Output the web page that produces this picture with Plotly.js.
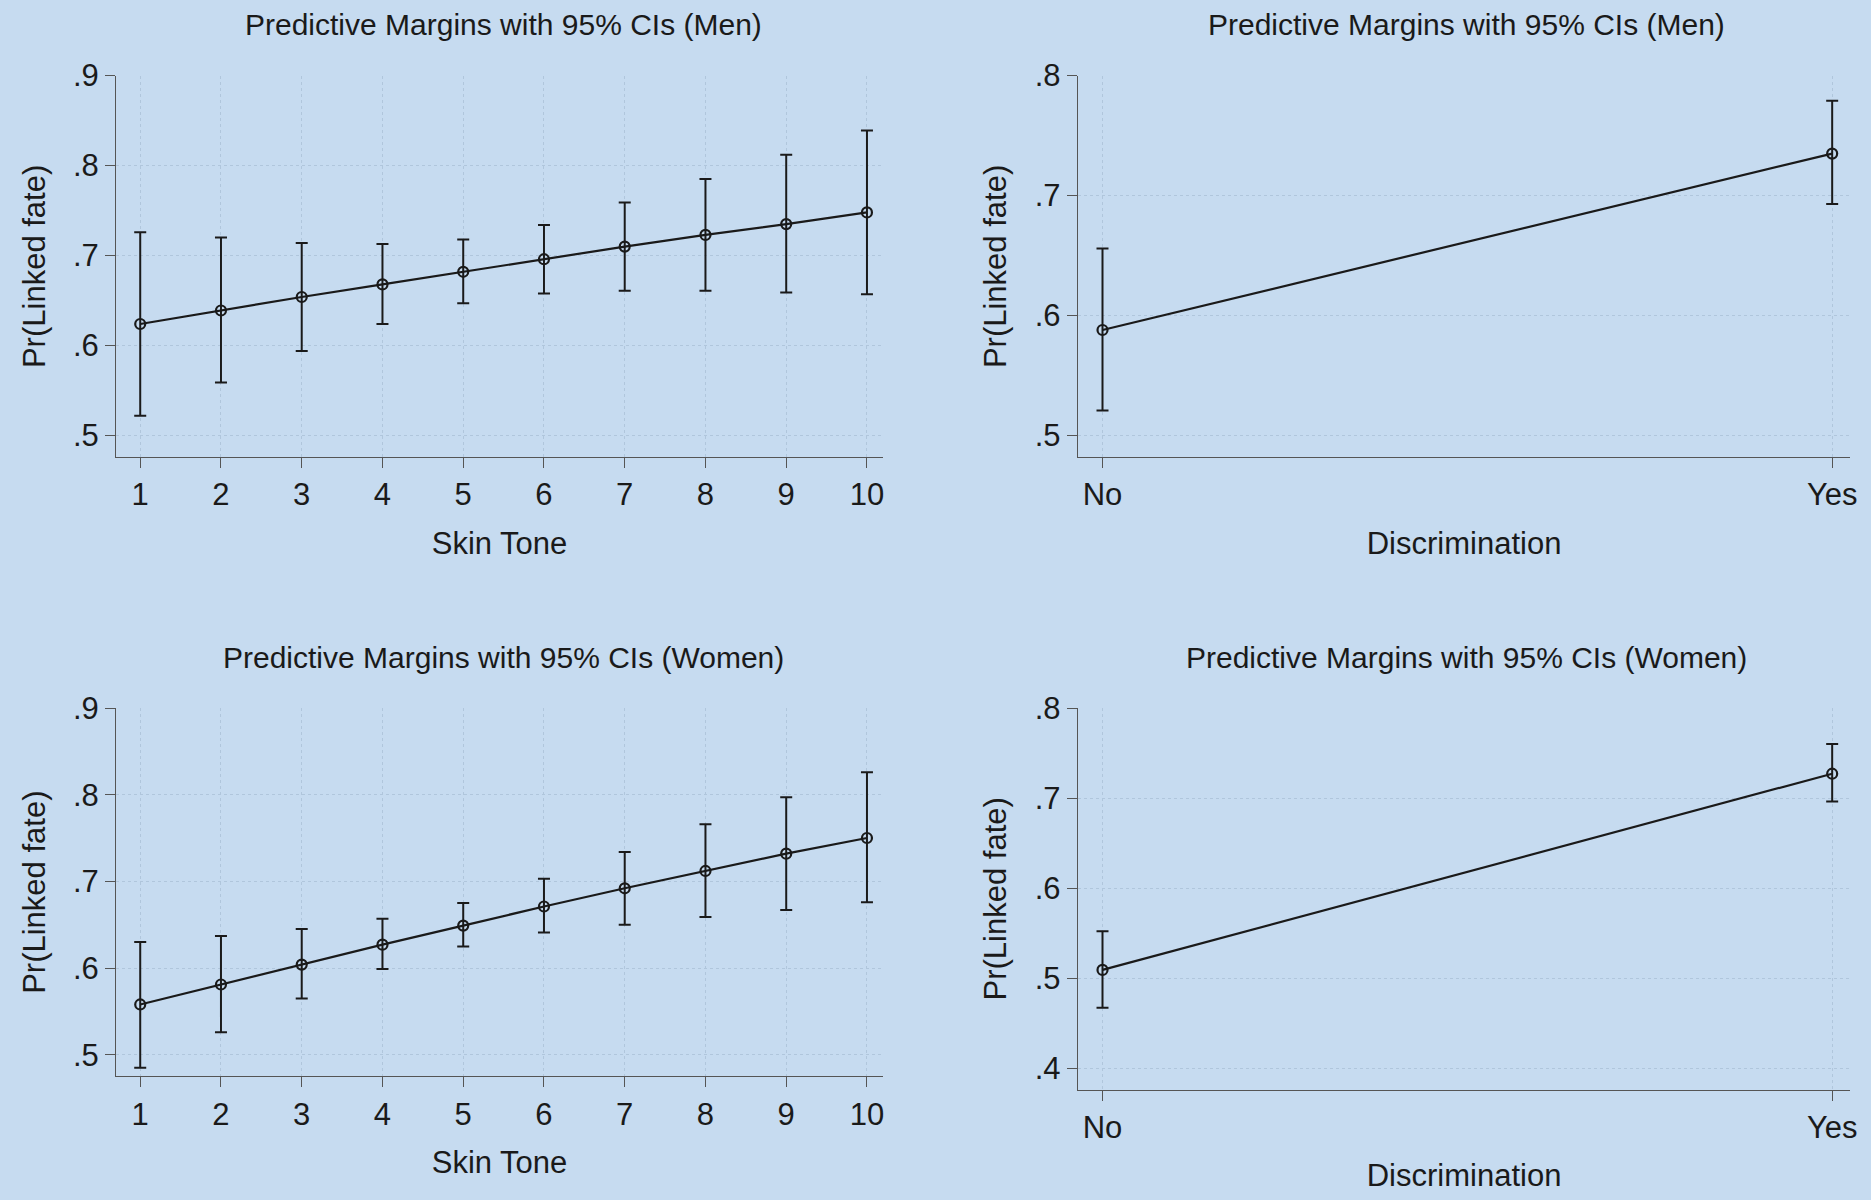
<!DOCTYPE html>
<html><head><meta charset="utf-8">
<script src="https://cdn.plot.ly/plotly-3.0.1.min.js"></script>
<style>body{margin:0;background:#c6dbf0}</style>
</head><body><div id="chart" style="width:1871px;height:1200px"></div>
<script>
const skinTone = [1, 2, 3, 4, 5, 6, 7, 8, 9, 10];
const discCats = ["No", "Yes"];
const menSkinMean = [.624, .639, .654, .668, .682, .696, .710, .723, .735, .748];
const menSkinLo = [.522, .559, .594, .624, .647, .658, .661, .661, .659, .657];
const menSkinHi = [.726, .720, .714, .713, .718, .734, .759, .785, .812, .839];
const menDiscMean = [.588, .735];
const menDiscLo = [.521, .693];
const menDiscHi = [.656, .779];
const womenSkinMean = [.558, .581, .604, .627, .649, .671, .692, .712, .732, .750];
const womenSkinLo = [.485, .526, .565, .599, .625, .641, .650, .659, .667, .676];
const womenSkinHi = [.630, .637, .645, .657, .675, .703, .734, .766, .797, .826];
const womenDiscMean = [.509, .727];
const womenDiscLo = [.467, .696];
const womenDiscHi = [.552, .760];

const font = "Liberation Sans, Arial, sans-serif";
const black = "#1a1a1a";

function trace(x, m, lo, hi, ax) {
  return {
    x: x, y: m, xaxis: "x" + ax, yaxis: "y" + ax,
    type: "scatter", mode: "lines+markers",
    line: { color: black, width: 2.2 },
    marker: { symbol: "circle-open", size: 10, color: black, line: { width: 2.2 } },
    error_y: {
      type: "data", symmetric: false,
      array: m.map((v, i) => hi[i] - v),
      arrayminus: m.map((v, i) => v - lo[i]),
      color: black, thickness: 2, width: 6,
    },
  };
}

const data = [
  trace(skinTone, menSkinMean, menSkinLo, menSkinHi, ""),
  trace([0, 1], menDiscMean, menDiscLo, menDiscHi, "2"),
  trace(skinTone, womenSkinMean, womenSkinLo, womenSkinHi, "3"),
  trace([0, 1], womenDiscMean, womenDiscLo, womenDiscHi, "4"),
];

function xax(domain, range, tickvals, ticktext, anchor, title) {
  return {
    domain: domain, range: range, tickvals: tickvals, ticktext: ticktext, anchor: anchor,
    showgrid: true, gridcolor: "#b0c6dc", griddash: "dot", gridwidth: 1, zeroline: false,
    showline: true, linecolor: "#555", linewidth: 1, ticks: "outside", ticklen: 10, tickcolor: "#555",
    tickfont: { size: 31, color: black, family: font },
    title: { text: title, font: { size: 31, color: black, family: font }, standoff: 20 },
  };
}
function yax(domain, range, tickvals, anchor) {
  return {
    domain: domain, range: range, tickvals: tickvals, anchor: anchor,
    ticktext: tickvals.map(v => "." + Math.round(v * 10)),
    showgrid: true, gridcolor: "#b0c6dc", griddash: "dot", gridwidth: 1, zeroline: false,
    showline: true, linecolor: "#555", linewidth: 1, ticks: "outside", ticklen: 10, tickcolor: "#555",
    tickfont: { size: 31, color: black, family: font },
    title: { text: "Pr(Linked fate)", font: { size: 31, color: black, family: font }, standoff: 18 },
  };
}

const layout = {
  width: 1871, height: 1200,
  paper_bgcolor: "#c6dbf0", plot_bgcolor: "#c6dbf0",
  showlegend: false,
  margin: { l: 0, r: 0, t: 0, b: 0 },
  xaxis: xax([0.062, 0.472], [0.7, 10.2], skinTone, skinTone.map(String), "y", "Skin Tone"),
  yaxis: yax([0.619, 0.937], [0.476, 0.9], [.5, .6, .7, .8, .9], "x"),
  xaxis2: xax([0.576, 0.989], [-0.034, 1.025], [0, 1], discCats, "y2", "Discrimination"),
  yaxis2: yax([0.619, 0.937], [0.482, 0.8], [.5, .6, .7, .8], "x2"),
  xaxis3: xax([0.062, 0.472], [0.7, 10.2], skinTone, skinTone.map(String), "y3", "Skin Tone"),
  yaxis3: yax([0.103, 0.41], [0.475, 0.9], [.5, .6, .7, .8, .9], "x3"),
  xaxis4: xax([0.576, 0.989], [-0.034, 1.025], [0, 1], discCats, "y4", "Discrimination"),
  yaxis4: yax([0.092, 0.41], [0.376, 0.8], [.4, .5, .6, .7, .8], "x4"),
  annotations: [
    ["Predictive Margins with 95% CIs (Men)", 0.269, 0.98],
    ["Predictive Margins with 95% CIs (Men)", 0.784, 0.98],
    ["Predictive Margins with 95% CIs (Women)", 0.269, 0.452],
    ["Predictive Margins with 95% CIs (Women)", 0.784, 0.452],
  ].map(a => ({
    text: a[0], x: a[1], y: a[2], xref: "paper", yref: "paper",
    xanchor: "center", yanchor: "middle", showarrow: false,
    font: { size: 30, color: black, family: font },
  })),
};

Plotly.newPlot("chart", data, layout, { displayModeBar: false });
</script>
</body></html>
